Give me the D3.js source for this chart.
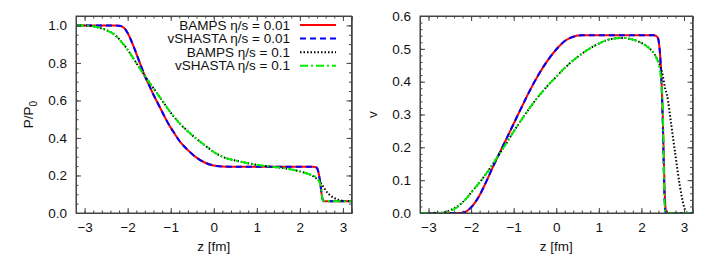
<!DOCTYPE html>
<html>
<head>
<meta charset="utf-8">
<script src="https://cdn.jsdelivr.net/npm/d3@7"></script>
<style>
  body { margin: 0; background: #fff; }
  text { font-family: "Liberation Sans", Arial, sans-serif; }
</style>
</head>
<body>
<div id="chart"></div>
<script>
// page size
const width = 708;
const height = 257;

// series names for the legend
const seriesNames = ["BAMPS \u03b7/s = 0.01", "vSHASTA \u03b7/s = 0.01", "BAMPS \u03b7/s = 0.1", "vSHASTA \u03b7/s = 0.1"];

// pressure, eta/s = 0.01 : BAMPS and vSHASTA sit on top of each other
const zP1 = [-3.2, -2.3, -2.2, -2.1, -2.0, -1.9, -1.8, -1.7, -1.6, -1.5, -1.4, -1.3, -1.2, -1.1, -1.0, -0.9, -0.8, -0.6, -0.4, -0.2, 0.0, 0.2, 0.4, 1.5, 2.3, 2.38, 2.43, 2.48, 2.52, 2.56, 3.2];
const pBamps1 = [1.0, 1.0, 0.998, 0.99, 0.96, 0.91, 0.85, 0.79, 0.73, 0.68, 0.63, 0.585, 0.54, 0.495, 0.455, 0.42, 0.385, 0.335, 0.295, 0.268, 0.253, 0.248, 0.247, 0.247, 0.247, 0.243, 0.22, 0.15, 0.08, 0.063, 0.062];
const pShasta1 = [1.0, 1.0, 0.998, 0.99, 0.96, 0.91, 0.85, 0.79, 0.73, 0.68, 0.63, 0.585, 0.54, 0.495, 0.455, 0.42, 0.385, 0.335, 0.295, 0.268, 0.253, 0.248, 0.247, 0.247, 0.247, 0.243, 0.22, 0.15, 0.08, 0.063, 0.062];

// pressure, eta/s = 0.1
const zP2 = [-3.2, -2.9, -2.7, -2.5, -2.3, -2.1, -2.0, -1.8, -1.6, -1.4, -1.2, -1.0, -0.8, -0.6, -0.4, -0.2, 0.0, 0.2, 0.4, 0.6, 0.8, 1.0, 1.2, 1.4, 1.6, 1.8, 2.0, 2.2, 2.35, 2.45, 2.5, 2.53, 2.56, 2.6, 2.7, 2.8, 2.9, 3.0, 3.2];
const pBamps2 = [1.0, 0.998, 0.99, 0.975, 0.95, 0.90, 0.87, 0.80, 0.73, 0.665, 0.60, 0.535, 0.48, 0.435, 0.395, 0.36, 0.325, 0.30, 0.285, 0.275, 0.265, 0.257, 0.25, 0.245, 0.24, 0.232, 0.222, 0.208, 0.19, 0.17, 0.155, 0.145, 0.135, 0.12, 0.095, 0.08, 0.07, 0.065, 0.063];
const pShasta2 = [1.0, 0.998, 0.99, 0.975, 0.95, 0.90, 0.87, 0.80, 0.73, 0.665, 0.60, 0.535, 0.48, 0.435, 0.395, 0.36, 0.325, 0.30, 0.285, 0.275, 0.265, 0.257, 0.25, 0.245, 0.24, 0.232, 0.222, 0.208, 0.195, 0.17, 0.12, 0.07, 0.065, 0.064, 0.064, 0.063, 0.063, 0.063, 0.063];

// velocity, eta/s = 0.01
const zV1 = [-3.2, -2.3, -2.2, -2.1, -2.0, -1.9, -1.8, -1.7, -1.6, -1.5, -1.4, -1.3, -1.2, -1.1, -1.0, -0.8, -0.6, -0.4, -0.2, 0.0, 0.2, 0.4, 0.6, 2.3, 2.38, 2.44, 2.5, 2.54, 2.57, 2.6, 3.2];
const vBamps1 = [0, 0, 0.001, 0.006, 0.017, 0.033, 0.054, 0.08, 0.108, 0.137, 0.164, 0.191, 0.218, 0.245, 0.272, 0.326, 0.378, 0.425, 0.465, 0.498, 0.524, 0.537, 0.541, 0.541, 0.535, 0.48, 0.30, 0.10, 0.01, 0, 0];
const vShasta1 = [0, 0, 0.001, 0.006, 0.017, 0.033, 0.054, 0.08, 0.108, 0.137, 0.164, 0.191, 0.218, 0.245, 0.272, 0.326, 0.378, 0.425, 0.465, 0.498, 0.524, 0.537, 0.541, 0.541, 0.535, 0.48, 0.28, 0.05, 0, 0, 0];

// velocity, eta/s = 0.1
const zV2 = [-3.2, -2.7, -2.6, -2.5, -2.4, -2.3, -2.2, -2.1, -2.0, -1.8, -1.6, -1.4, -1.2, -1.0, -0.8, -0.6, -0.4, -0.2, 0.0, 0.2, 0.4, 0.6, 0.8, 1.0, 1.2, 1.4, 1.6, 1.8, 2.0, 2.2, 2.3, 2.4, 2.45, 2.5, 2.52, 2.54, 2.56, 2.6, 2.7, 2.8, 2.9, 3.0, 3.05, 3.1, 3.2];
const vBamps2 = [0, 0.001, 0.004, 0.008, 0.014, 0.022, 0.033, 0.046, 0.062, 0.093, 0.128, 0.167, 0.207, 0.248, 0.287, 0.324, 0.358, 0.388, 0.415, 0.442, 0.465, 0.485, 0.502, 0.516, 0.527, 0.532, 0.533, 0.528, 0.518, 0.50, 0.485, 0.46, 0.445, 0.42, 0.405, 0.39, 0.378, 0.36, 0.27, 0.175, 0.085, 0.02, 0.003, 0, 0];
const vShasta2 = [0, 0, 0.002, 0.006, 0.012, 0.02, 0.032, 0.046, 0.062, 0.093, 0.128, 0.167, 0.207, 0.248, 0.287, 0.324, 0.358, 0.388, 0.415, 0.442, 0.465, 0.485, 0.502, 0.516, 0.527, 0.532, 0.533, 0.528, 0.518, 0.50, 0.485, 0.455, 0.42, 0.33, 0.2, 0.05, 0, 0, 0, 0, 0, 0, 0, 0, 0];

// tick values
const xTicks = [-3, -2, -1, 0, 1, 2, 3];
const pTicks = [0.0, 0.2, 0.4, 0.6, 0.8, 1.0];
const vTicks = [0.0, 0.1, 0.2, 0.3, 0.4, 0.5, 0.6];

// line styles for the four series
const styles = [
  {color: "#ff0000", dash: null},
  {color: "#0000ff", dash: "6,4"},
  {color: "#000000", dash: "1.5,2"},
  {color: "#00ee00", dash: "8,3,2,3"}
];

const svg = d3.select("#chart")
  .append("svg")
  .attr("width", width)
  .attr("height", height);

// draws one framed panel with gnuplot style ticks on all four sides
function panel(box, yMax, yTicks, yMinorStep, yLabel, zs, series, legend) {
  const x = d3.scaleLinear().domain([-3.2, 3.2]).range([box.left, box.right]);
  const y = d3.scaleLinear().domain([0, yMax]).range([box.bottom, box.top]);
  const g = svg.append("g");

  // curves
  const line = d3.line()
    .x(d => x(d[0]))
    .y(d => y(d[1]))
    .curve(d3.curveMonotoneX);
  series.forEach((vals, i) => {
    const pts = zs[i].map((z, k) => [z, vals[k]]);
    g.append("path")
      .attr("d", line(pts))
      .attr("fill", "none")
      .attr("stroke", styles[i].color)
      .attr("stroke-width", 2)
      .attr("stroke-dasharray", styles[i].dash);
  });

  // axes: ticks pointing inward, mirrored top/right
  const xMinor = d3.range(-3.2, 3.2001, 0.2).map(v => Math.round(v * 10) / 10);
  const yMinor = d3.range(0, yMax + 1e-9, yMinorStep);

  g.append("g")
    .attr("transform", `translate(0,${box.bottom})`)
    .call(d3.axisBottom(x).tickValues(xTicks).tickSize(-5).tickPadding(9).tickFormat(d3.format("d")));
  g.append("g")
    .attr("transform", `translate(0,${box.top})`)
    .call(d3.axisTop(x).tickValues(xTicks).tickSize(-5).tickFormat(""));
  g.append("g")
    .attr("transform", `translate(0,${box.bottom})`)
    .call(d3.axisBottom(x).tickValues(xMinor).tickSize(-2.5).tickFormat(""));
  g.append("g")
    .attr("transform", `translate(0,${box.top})`)
    .call(d3.axisTop(x).tickValues(xMinor).tickSize(-2.5).tickFormat(""));

  g.append("g")
    .attr("transform", `translate(${box.left},0)`)
    .call(d3.axisLeft(y).tickValues(yTicks).tickSize(-5).tickPadding(9).tickFormat(d3.format(".1f")));
  g.append("g")
    .attr("transform", `translate(${box.right},0)`)
    .call(d3.axisRight(y).tickValues(yTicks).tickSize(-5).tickFormat(""));
  g.append("g")
    .attr("transform", `translate(${box.left},0)`)
    .call(d3.axisLeft(y).tickValues(yMinor).tickSize(-2.5).tickFormat(""));
  g.append("g")
    .attr("transform", `translate(${box.right},0)`)
    .call(d3.axisRight(y).tickValues(yMinor).tickSize(-2.5).tickFormat(""));

  g.selectAll(".domain").attr("stroke", "#444");
  g.selectAll(".tick line").attr("stroke", "#444");
  g.selectAll(".tick text").attr("font-size", 13.5).attr("fill", "#111")
    .attr("font-family", "Liberation Sans, Arial, sans-serif");

  // frame
  g.append("rect")
    .attr("x", box.left).attr("y", box.top)
    .attr("width", box.right - box.left).attr("height", box.bottom - box.top)
    .attr("fill", "none").attr("stroke", "#444");

  // x title
  g.append("text")
    .attr("x", (box.left + box.right) / 2)
    .attr("y", 251)
    .attr("text-anchor", "middle")
    .attr("font-size", 13.5)
    .attr("fill", "#111")
    .text("z [fm]");

  // y title
  const yt = g.append("text")
    .attr("transform", `translate(${box.left - 43},${(box.top + box.bottom) / 2}) rotate(-90)`)
    .attr("text-anchor", "middle")
    .attr("font-size", 13.5)
    .attr("fill", "#111");
  yt.append("tspan").text(yLabel[0]);
  if (yLabel[1]) {
    yt.append("tspan").attr("font-size", 10).attr("dy", 4).text(yLabel[1]);
  }

  // legend
  if (legend) {
    seriesNames.forEach((name, i) => {
      const ly = 25 + i * 13.6;
      g.append("text")
        .attr("x", 290).attr("y", ly + 4.5)
        .attr("text-anchor", "end")
        .attr("font-size", 13.5)
        .attr("fill", "#111")
        .text(name);
      g.append("line")
        .attr("x1", 300).attr("x2", 336)
        .attr("y1", ly).attr("y2", ly)
        .attr("stroke", styles[i].color)
        .attr("stroke-width", 2)
        .attr("stroke-dasharray", styles[i].dash);
    });
  }
}

panel({left: 76, right: 351.5, top: 16, bottom: 213}, 1.05, pTicks, 0.05, ["P/P", "0"],
  [zP1, zP1, zP2, zP2], [pBamps1, pShasta1, pBamps2, pShasta2], true);

panel({left: 420, right: 692.5, top: 16, bottom: 213}, 0.6, vTicks, 0.02, ["v", null],
  [zV1, zV1, zV2, zV2], [vBamps1, vShasta1, vBamps2, vShasta2], false);
</script>
</body>
</html>
